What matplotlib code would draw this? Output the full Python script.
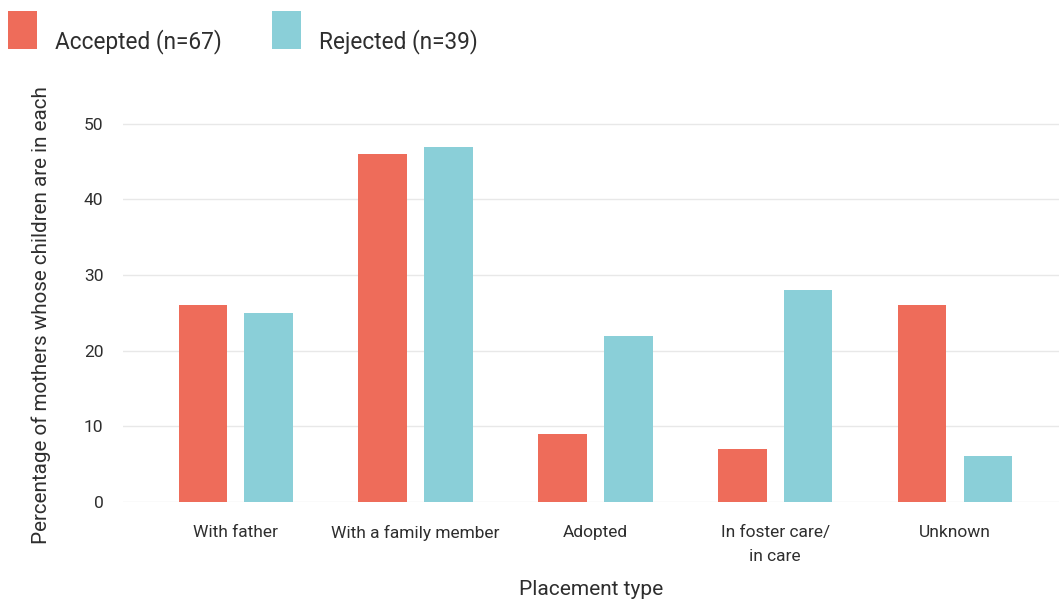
import numpy as np
import matplotlib
matplotlib.use('Agg')
import matplotlib.pyplot as plt
from matplotlib.patches import Rectangle

categories = ['With father', 'With a family member', 'Adopted',
              'In foster care/\nin care', 'Unknown']
accepted = [26, 46, 9, 7, 26]
rejected = [25, 47, 22, 28, 6]
series_labels = ['Accepted (n=67)', 'Rejected (n=39)']
yticks = [0, 10, 20, 30, 40, 50]

acc_color = '#ee6c5a'
rej_color = '#8acfd8'
text_color = '#2e2e2e'

W, H = 1059, 601
fig = plt.figure(figsize=(W / 100, H / 100), dpi=100)
ax = fig.add_axes([0.116, 0.165, 0.884, 0.654])

x = np.arange(len(categories))
w = 0.27
ax.bar(x - 0.183, accepted, w, color=acc_color, zorder=3)
ax.bar(x + 0.183, rejected, w, color=rej_color, zorder=3)

ax.set_xlim(-0.628, 4.578)
ax.set_ylim(0, 52)
ax.set_yticks(yticks)
ax.set_yticklabels([str(t) for t in yticks], family='Roboto', fontsize=12.5, color=text_color)
ax.set_xticks(x)
ax.set_xticklabels(categories, family='Roboto', fontsize=12.5, color=text_color,
                   linespacing=1.75)
ax.tick_params(axis='both', length=0)
ax.tick_params(axis='x', pad=17)
ax.tick_params(axis='y', pad=14)
ax.grid(axis='y', color='#e8e8e8', linewidth=1, zorder=0)
for s in ax.spines.values():
    s.set_visible(False)

ax.set_xlabel('Placement type', family='Roboto', fontsize=15,
              color=text_color, labelpad=11)
fig.text(41 / W, 1 - 544 / H, 'Percentage of mothers whose children are in each',
         rotation=90, family='Roboto', fontsize=14.9, color=text_color,
         ha='center', va='bottom')

# legend drawn by hand at the top left
for i, (lab, col) in enumerate(zip(series_labels, [acc_color, rej_color])):
    x0 = [8, 272][i]
    fig.patches.append(Rectangle((x0 / W, 1 - 49 / H), 29 / W, 38 / H,
                                 transform=fig.transFigure, facecolor=col,
                                 edgecolor='none'))
    fig.text((x0 + 47) / W, 1 - 48 / H, lab, family='Roboto',
             fontsize=16.3, color=text_color, ha='left', va='baseline')

fig.savefig('out.png', dpi=100)
